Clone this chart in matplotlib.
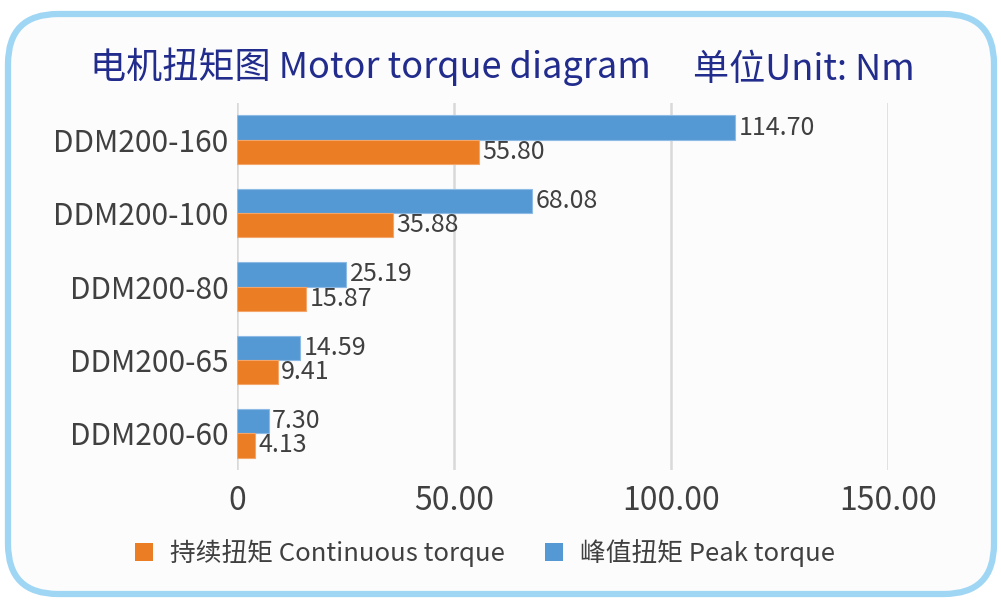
import numpy as np
import matplotlib
matplotlib.use("Agg")
import matplotlib.pyplot as plt
from matplotlib.patches import FancyBboxPatch, Patch

plt.rcParams['font.family'] = ['Noto Sans CJK SC', 'DejaVu Sans']

# data
models = ["DDM200-160", "DDM200-100", "DDM200-80", "DDM200-65", "DDM200-60"]
peak_torque = [114.70, 68.08, 25.19, 14.59, 7.30]
continuous_torque = [55.80, 35.88, 15.87, 9.41, 4.13]
x_ticks = [0, 50, 100, 150]
x_tick_labels = ["0", "50.00", "100.00", "150.00"]

blue = "#5499d3"
orange = "#eb7d25"
text_grey = "#404040"
navy = "#222c8c"

fig = plt.figure(figsize=(10.01, 6.06), dpi=100)
fig.patch.set_facecolor("white")

# rounded light-blue frame, drawn in pixel-like coords on a background axes
bg = fig.add_axes([0, 0, 1, 1], zorder=-1)
bg.set_xlim(0, 1001)
bg.set_ylim(0, 606)
bg.axis("off")
frame = FancyBboxPatch((8, 12), 986, 580, boxstyle="round,pad=0,rounding_size=50",
                       facecolor="#fcfcfc", edgecolor="#9fd6f4", linewidth=4.5)
bg.add_patch(frame)

ax = fig.add_axes([0.2368, 0.2244, 0.8871 - 0.2368, 0.830 - 0.2244])
ax.set_facecolor("none")

y = np.arange(len(models))[::-1]
h = 0.33
bars_peak = ax.barh(y + h / 2, peak_torque, height=h, color=blue,
                    edgecolor="#8dbbe6", linewidth=0.8, zorder=3)
bars_cont = ax.barh(y - h / 2, continuous_torque, height=h, color=orange,
                    edgecolor="#f3a56a", linewidth=0.8, zorder=3)

for bars, vals in ((bars_peak, peak_torque), (bars_cont, continuous_torque)):
    for b, v in zip(bars, vals):
        ax.text(v + 0.8, b.get_y() + b.get_height() / 2, f"{v:.2f}",
                va="center", ha="left", fontsize=18, color=text_grey, zorder=4)

ax.set_xlim(0, 150)
ax.set_ylim(-0.5, len(models) - 0.5)
ax.set_xticks(x_ticks)
ax.set_xticklabels(x_tick_labels)
ax.set_yticks(y)
ax.set_yticklabels(models)
ax.tick_params(axis="x", length=0, pad=11, labelsize=23, labelcolor=text_grey)
ax.tick_params(axis="y", length=0, pad=6, labelsize=21.5, labelcolor=text_grey)
ax.xaxis.grid(True, color="#d9d9d9", linewidth=1.8, zorder=0)
ax.yaxis.grid(False)
for s in ax.spines.values():
    s.set_visible(False)

fig.text(90 / 1001, 1 - 67 / 606, "电机扭矩图 Motor torque diagram", fontsize=26,
         color=navy, va="center", ha="left")
fig.text(693 / 1001, 1 - 70 / 606, "单位Unit: Nm", fontsize=26,
         color=navy, va="center", ha="left")

handles = [Patch(facecolor=orange, edgecolor="none", label="持续扭矩 Continuous torque"),
           Patch(facecolor=blue, edgecolor="none", label="峰值扭矩 Peak torque")]
leg = fig.legend(handles=handles, loc="center", bbox_to_anchor=(485 / 1001, 1 - 553 / 606),
                 ncol=2, frameon=False, fontsize=18.5, handlelength=0.68, handleheight=0.68,
                 handletextpad=0.65, columnspacing=1.6, labelcolor=text_grey)

fig.savefig("out.png", dpi=100)
